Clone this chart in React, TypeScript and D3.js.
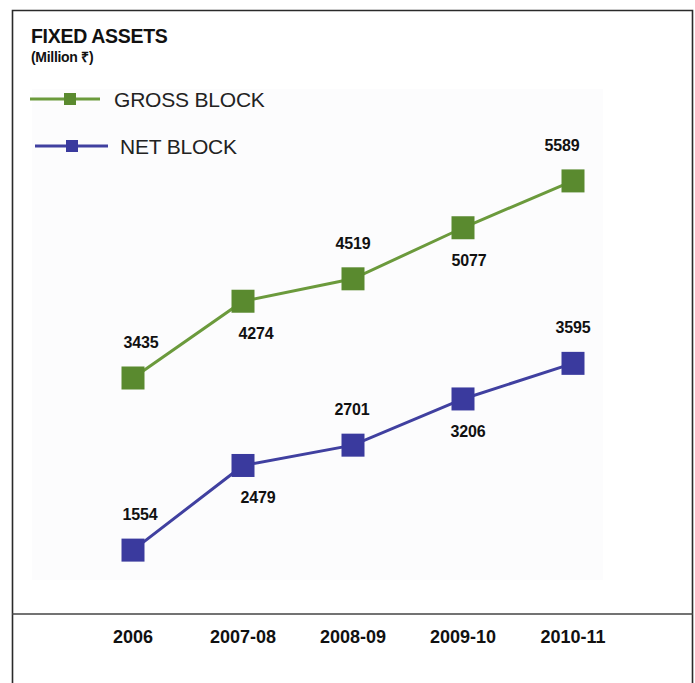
import React from "react";
import * as d3 from "d3";

const categories = ["2006", "2007-08", "2008-09", "2009-10", "2010-11"];
const grossBlock = [3435, 4274, 4519, 5077, 5589];
const netBlock = [1554, 2479, 2701, 3206, 3595];
const seriesNames = ["GROSS BLOCK", "NET BLOCK"];

// label placement: 1 = above, -1 = below (style)
const labelSide = [1, -1, 1, -1, 1];
const grossLabelDx = [8, 13, 0, 6, -11];
const netLabelDx = [7, 15, -1, 5, 0];

const W = 695;
const H = 683;
const GREEN = "#5a8a2f";
const GREEN_LINE = "#6b9a3c";
const BLUE = "#3a3a9e";
const BLUE_LINE = "#4040a0";
const FONT = "'Liberation Sans', Arial, Helvetica, sans-serif";

export default function App() {
  const x = d3.scalePoint<string>().domain(categories).range([133, 573]);
  const y = d3.scaleLinear().domain([1000, 6000]).range([600.8, 143.3]);
  const line = d3
    .line<number>()
    .x((_, i) => x(categories[i]) as number)
    .y((d) => y(d));

  const series = [
    { name: seriesNames[0], values: grossBlock, color: GREEN, lineColor: GREEN_LINE, dx: grossLabelDx },
    { name: seriesNames[1], values: netBlock, color: BLUE, lineColor: BLUE_LINE, dx: netLabelDx },
  ];

  const M = 23;

  return (
    <svg
      width={W}
      height={H}
      style={{ position: "absolute", left: 0, top: 0, background: "#fff" }}
      fontFamily={FONT}
    >
      <rect x={0} y={0} width={W} height={H} fill="#fff" />
      {/* frame */}
      <path d={`M12.5,${H} V10.5 H692.5 V${H}`} fill="none" stroke="#2a2a2a" strokeWidth={1.6} />
      <line x1={12} x2={693} y1={614} y2={614} stroke="#444" strokeWidth={1.6} />
      {/* faint plot background */}
      <rect x={32} y={89} width={571} height={491} fill="#fcfcfd" />

      {/* title */}
      <text x={31} y={43} fontSize={19.5} fontWeight={700} fill="#111" letterSpacing={-0.3}>
        FIXED ASSETS
      </text>
      <text x={31} y={62} fontSize={14} fontWeight={700} fill="#111" letterSpacing={-0.3}>
        (Million ₹)
      </text>

      {/* legend */}
      {series.map((s, i) => {
        const ly = i === 0 ? 99 : 146;
        const lx0 = i === 0 ? 30 : 35;
        const lx1 = i === 0 ? 100 : 108;
        const mx = i === 0 ? 70 : 72;
        const tx = i === 0 ? 114 : 120;
        return (
          <g key={s.name}>
            <line x1={lx0} x2={lx1} y1={ly} y2={ly} stroke={s.lineColor} strokeWidth={3} />
            <rect x={mx - 6} y={ly - 6} width={12} height={12} fill={s.color} />
            <text x={tx} y={ly + 7.5} fontSize={21} fill="#222" letterSpacing={-0.2}>
              {s.name}
            </text>
          </g>
        );
      })}

      {/* lines */}
      {series.map((s) => (
        <path key={s.name + "l"} d={line(s.values) as string} fill="none" stroke={s.lineColor} strokeWidth={3} />
      ))}
      {/* markers */}
      {series.map((s) =>
        s.values.map((v, i) => (
          <rect
            key={s.name + i}
            x={(x(categories[i]) as number) - M / 2}
            y={y(v) - M / 2}
            width={M}
            height={M}
            fill={s.color}
          />
        ))
      )}
      {/* value labels */}
      {series.map((s) =>
        s.values.map((v, i) => (
          <text
            key={s.name + "t" + i}
            x={(x(categories[i]) as number) + s.dx[i]}
            y={y(v) + (labelSide[i] === 1 ? -30 : 38)}
            textAnchor="middle"
            fontSize={16}
            fontWeight={700}
            fill="#111"
            letterSpacing={-0.2}
          >
            {v}
          </text>
        ))
      )}

      {/* category axis labels */}
      {categories.map((c) => (
        <text
          key={c}
          x={x(c) as number}
          y={643}
          textAnchor="middle"
          fontSize={18}
          fontWeight={700}
          fill="#111"
          letterSpacing={0}
        >
          {c}
        </text>
      ))}
    </svg>
  );
}
